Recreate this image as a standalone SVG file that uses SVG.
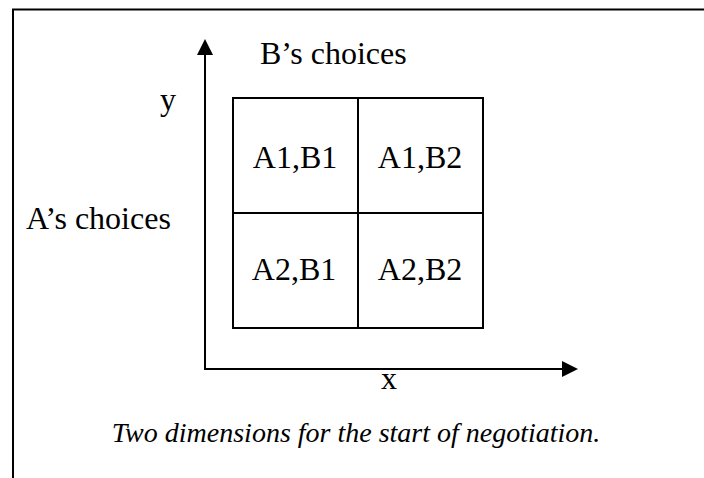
<svg xmlns="http://www.w3.org/2000/svg" width="704" height="478" viewBox="0 0 704 478">
<style>
text{font-family:"Liberation Serif","Times New Roman",serif;fill:#000}
.t{font-size:32px}
.c{font-size:32px;text-anchor:middle}
.cap{font-size:28px;font-style:italic;text-anchor:middle}
.ln{stroke:#000;stroke-width:2;fill:none}
</style>
<rect width="704" height="478" fill="#fff"/>
<g id="frame">
<path class="ln" d="M13,478 V9.5 H704"/>
</g>
<g id="connectors">
<line class="ln" x1="205" y1="370" x2="205" y2="54"/>
<path d="M205,39 L197,55 L213,55 Z" fill="#000"/>
<line class="ln" x1="204" y1="369" x2="563" y2="369"/>
<path d="M578,369 L562,361 L562,377 Z" fill="#000"/>
</g>
<g id="grid">
<rect class="ln" x="233" y="98" width="250" height="230"/>
<line class="ln" x1="358" y1="98" x2="358" y2="328"/>
<line class="ln" x1="233" y1="213" x2="483" y2="213"/>
</g>
<g id="cell-a1b1"><text class="c" x="295" y="168">A1,B1</text></g>
<g id="cell-a1b2"><text class="c" x="420" y="168">A1,B2</text></g>
<g id="cell-a2b1"><text class="c" x="294" y="280">A2,B1</text></g>
<g id="cell-a2b2"><text class="c" x="420" y="280">A2,B2</text></g>
<g id="labels">
<text class="t" x="260" y="64">B’s choices</text>
<text class="t" x="160" y="110">y</text>
<text class="t" x="26" y="229">A’s choices</text>
<text class="t" x="381" y="389">x</text>
</g>
<g id="caption">
<text class="cap" x="356" y="442">Two dimensions for the start of negotiation.</text>
</g>
</svg>
